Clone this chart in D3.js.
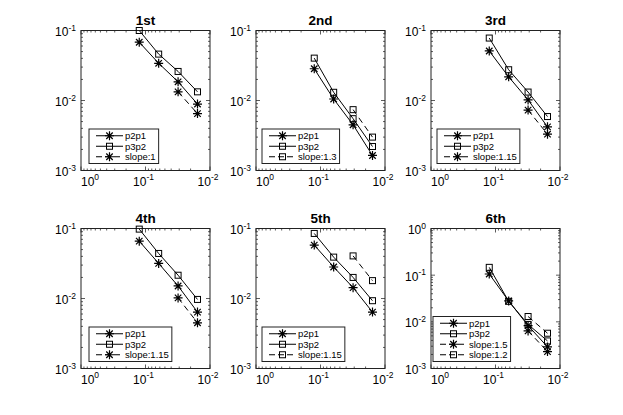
<!DOCTYPE html>
<html>
<head>
<meta charset="utf-8">
<script src="https://cdn.jsdelivr.net/npm/d3@7"></script>
<style>
body { margin: 0; background: #fff; }
svg { font-family: "Liberation Sans", Arial, Helvetica, sans-serif; }
</style>
</head>
<body>
<svg id="chart" width="623" height="415"></svg>
<script>
// mesh sizes h used on the x axis
var hs = [0.125, 0.0625, 0.03125, 0.015625];
var hsSlope = [0.03125, 0.015625];

var titles = ["1st", "2nd", "3rd", "4th", "5th", "6th"];

// errors
var p2p1 = [
  [0.068, 0.034, 0.0185, 0.0089],
  [0.0284, 0.0105, 0.0045, 0.00164],
  [0.051, 0.0218, 0.0102, 0.0042],
  [0.066, 0.0317, 0.0151, 0.0064],
  [0.058, 0.0282, 0.0143, 0.0064],
  [0.106, 0.028, 0.0083, 0.0029]
];
var p3p2 = [
  [0.1, 0.046, 0.026, 0.0133],
  [0.0403, 0.0131, 0.0055, 0.0022],
  [0.078, 0.0275, 0.0132, 0.0059],
  [0.098, 0.044, 0.0215, 0.0097],
  [0.085, 0.039, 0.02, 0.0093],
  [0.147, 0.0275, 0.0088, 0.0039]
];
var slopeLabels = [
  ["slope:1"], ["slope:1.3"], ["slope:1.15"],
  ["slope:1.15"], ["slope:1.15"], ["slope:1.5", "slope:1.2"]
];
var slopeMarkers = [
  ["star"], ["square"], ["star"],
  ["star"], ["square"], ["star", "square"]
];
var slopeValues = [
  [[0.0133, 0.0065]],
  [[0.0074, 0.003]],
  [[0.0073, 0.0033]],
  [[0.0102, 0.0045]],
  [[0.0406, 0.018]],
  [[0.0064, 0.0023], [0.013, 0.0057]]
];
var yTopExp = [-1, -1, -1, -1, -1, 0];
var xTickExp = [0, -1, -2];

var colLeft = [81, 256, 431];
var rowTop = [30.5, 228.5];
var pw = 129, ph = 140;
var legendDx = [8, 6, 6, 8, 6, 2];

var svg = d3.select("#chart");

function starPath(s) {
  var d = s * 0.72;
  return "M" + (-s) + ",0L" + s + ",0M0," + (-s) + "L0," + s +
    "M" + (-d) + "," + (-d) + "L" + d + "," + d +
    "M" + (-d) + "," + d + "L" + d + "," + (-d);
}

function drawMarker(g, type, x, y) {
  if (type == "star") {
    g.append("path")
      .attr("transform", "translate(" + x + "," + y + ")")
      .attr("d", starPath(4.5))
      .attr("stroke", "#000").attr("stroke-width", 1.2).attr("fill", "none");
  } else {
    g.append("rect")
      .attr("x", x - 3).attr("y", y - 3)
      .attr("width", 6).attr("height", 6)
      .attr("stroke", "#000").attr("stroke-width", 1).attr("fill", "none");
  }
}

function powLabel(g, x, y, exp, anchor) {
  var t = g.append("text")
    .attr("x", x).attr("y", y)
    .attr("text-anchor", anchor)
    .attr("font-size", 12)
    .attr("fill", "#000");
  t.append("tspan").text("10");
  t.append("tspan").attr("dy", -5.5).attr("font-size", 8.5).text(exp);
}

function drawPanel(i) {
  var left = colLeft[i % 3], top = rowTop[Math.floor(i / 3)];
  var g = svg.append("g").attr("transform", "translate(" + left + "," + top + ")");

  var x = d3.scaleLog().domain([1, 0.01]).range([0, pw]);
  var y = d3.scaleLog().domain([0.001, Math.pow(10, yTopExp[i])]).range([ph, 0]);

  // ticks, minor and major, on all four sides
  var xt = [], yt = [];
  for (var e = 0; e > -2; e--) {
    for (var m = 1; m < 10; m++) xt.push({v: m * Math.pow(10, e - 1), major: m == 1});
  }
  xt.push({v: 1, major: true});
  for (var e2 = -3; e2 < yTopExp[i]; e2++) {
    for (var m2 = 1; m2 < 10; m2++) yt.push({v: m2 * Math.pow(10, e2), major: m2 == 1});
  }
  yt.push({v: Math.pow(10, yTopExp[i]), major: true});

  var tg = g.append("g").attr("stroke", "#333").attr("stroke-width", 0.8);
  xt.forEach(function(t) {
    var len = t.major ? 4 : 2;
    var px = x(t.v);
    tg.append("line").attr("x1", px).attr("x2", px).attr("y1", ph).attr("y2", ph - len);
    tg.append("line").attr("x1", px).attr("x2", px).attr("y1", 0).attr("y2", len);
  });
  yt.forEach(function(t) {
    var len = t.major ? 4 : 2;
    var py = y(t.v);
    tg.append("line").attr("x1", 0).attr("x2", len).attr("y1", py).attr("y2", py);
    tg.append("line").attr("x1", pw).attr("x2", pw - len).attr("y1", py).attr("y2", py);
  });

  g.append("rect")
    .attr("width", pw).attr("height", ph)
    .attr("fill", "none").attr("stroke", "#222").attr("stroke-width", 1);

  // tick labels
  xTickExp.forEach(function(e, k) {
    var px = x(Math.pow(10, e));
    if (k == 0) powLabel(g, px, ph + 15, String(e), "start");
    else powLabel(g, px - 2, ph + 15, String(e), "middle");
  });
  for (var ye = -3; ye <= yTopExp[i]; ye++) {
    powLabel(g, -5, y(Math.pow(10, ye)) + 5.5, String(ye), "end");
  }

  g.append("text")
    .attr("x", pw / 2).attr("y", -6)
    .attr("text-anchor", "middle")
    .attr("font-size", 13.5).attr("font-weight", "bold")
    .text(titles[i]);

  // data lines
  var line = d3.line()
    .x(function(d) { return x(d[0]); })
    .y(function(d) { return y(d[1]); });

  var series = [
    {vals: p2p1[i], xs: hs, marker: "star", dash: null, label: "p2p1"},
    {vals: p3p2[i], xs: hs, marker: "square", dash: null, label: "p3p2"}
  ];
  slopeValues[i].forEach(function(v, k) {
    series.push({vals: v, xs: hsSlope, marker: slopeMarkers[i][k], dash: "6,4", label: slopeLabels[i][k]});
  });

  series.forEach(function(s) {
    var pts = s.xs.map(function(h, k) { return [h, s.vals[k]]; });
    g.append("path")
      .attr("d", line(pts))
      .attr("fill", "none").attr("stroke", "#000").attr("stroke-width", 1)
      .attr("stroke-dasharray", s.dash);
    pts.forEach(function(p) { drawMarker(g, s.marker, x(p[0]), y(p[1])); });
  });

  // legend, southwest
  var rowH = 10.5;
  var lh = series.length * rowH + 3;
  var lg = g.append("g").attr("transform", "translate(" + legendDx[i] + "," + (ph - 7 - lh) + ")");
  var box = lg.append("rect")
    .attr("height", lh)
    .attr("fill", "#fff").attr("stroke", "#222").attr("stroke-width", 1);
  var maxW = 0;
  series.forEach(function(s, k) {
    var cy = 1.5 + rowH * k + rowH / 2;
    lg.append("line")
      .attr("x1", 7).attr("x2", 34).attr("y1", cy).attr("y2", cy)
      .attr("stroke", "#000").attr("stroke-width", 1)
      .attr("stroke-dasharray", s.dash ? "6,3" : null);
    drawMarker(lg, s.marker, 20.5, cy);
    var t = lg.append("text")
      .attr("x", 36).attr("y", cy + 3.4)
      .attr("font-size", 9.5)
      .text(s.label);
    maxW = Math.max(maxW, t.node().getComputedTextLength());
  });
  box.attr("width", 36 + maxW + 3);
}

for (var i = 0; i < 6; i++) drawPanel(i);
</script>
</body>
</html>
